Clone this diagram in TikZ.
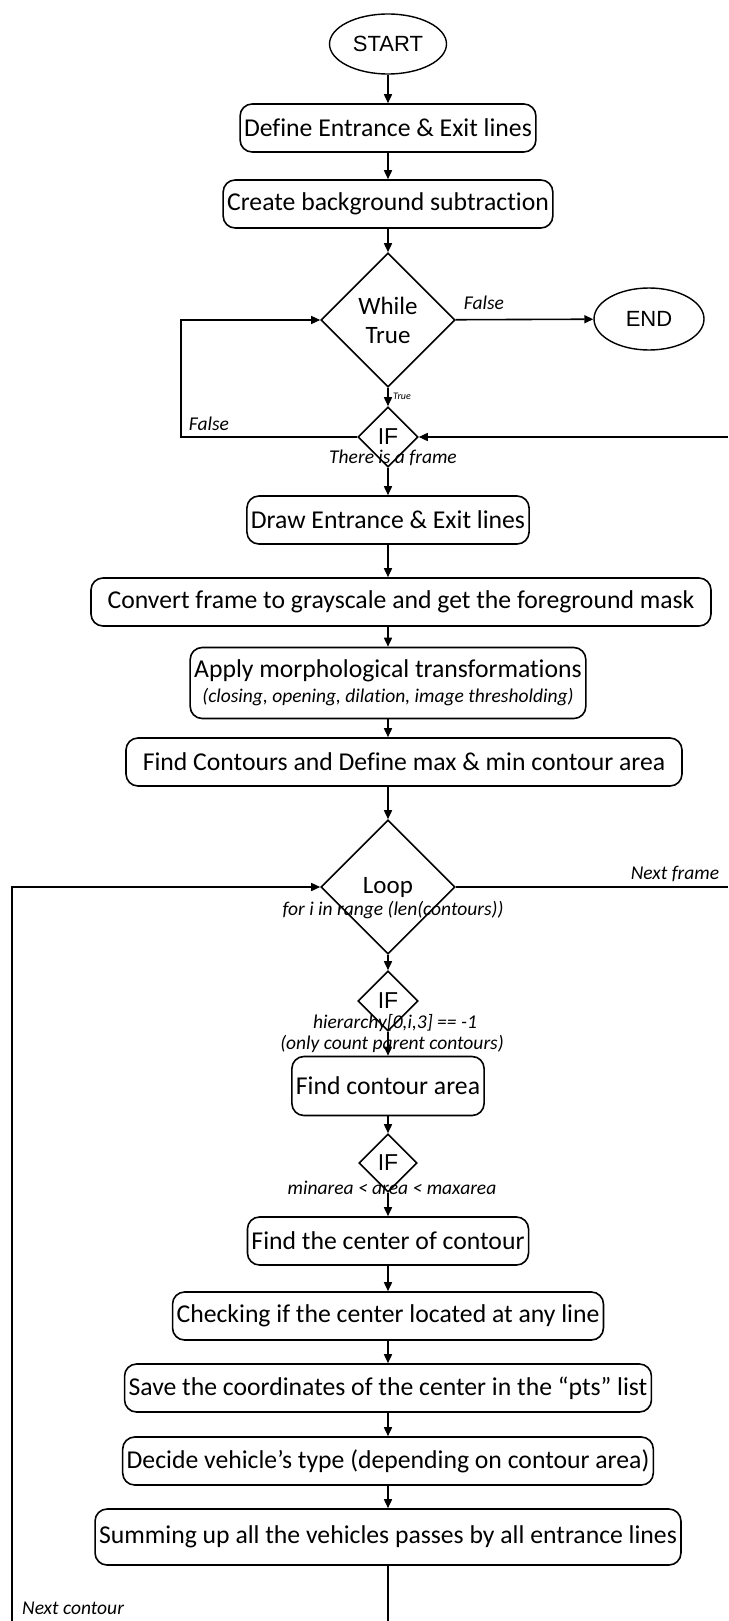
\documentclass[tikz,border=0pt]{standalone}
\usepackage{fontspec}
\setmainfont{Carlito}[Ligatures=NoCommon]
\newfontfamily\arialfont{Liberation Sans}
\usetikzlibrary{shapes.geometric,arrows.meta,positioning,calc}

\tikzset{
  stepbox/.style={draw, rounded corners=12pt, line width=1.6pt, minimum height=48pt,
    inner xsep=4pt, inner ysep=2pt, align=center, font=\fontsize{25.7}{30}\selectfont},
  termnode/.style={draw, ellipse, line width=1.4pt, inner sep=0pt,
    font=\arialfont\fontsize{22}{26}\selectfont},
  decision/.style={draw, diamond, line width=1.6pt, inner sep=0pt, aspect=1},
  flow/.style={line width=1.6pt, -{Triangle[length=9pt,width=8pt]}},
  plainline/.style={line width=1.6pt},
  lbl/.style={inner sep=0pt, font=\itshape\fontsize{19.5}{23}\selectfont},
}

\begin{document}
\begin{tikzpicture}[x=1pt,y=-1pt]
\useasboundingbox (0,0) rectangle (728,1621);
% main column
\def\xc{388}
% start and setup
\node[termnode,minimum width=117pt,minimum height=60pt] (start) at (\xc,44) {START};
\node[stepbox] (define) at (\xc,128) {Define Entrance \& Exit lines};
\node[stepbox] (backsub) at (\xc,204) {Create background subtraction};
% outer loop
\node[decision,minimum width=134pt,minimum height=134pt,align=center,
  font=\fontsize{25}{29}\selectfont] (while) at (\xc,320) {While\\True};
\node[termnode,minimum width=110pt,minimum height=62pt] (end) at (649,319) {END};
\node[decision,minimum width=60pt,minimum height=60pt,
  font=\arialfont\fontsize{23}{26}\selectfont] (ifframe) at (\xc,437) {IF};
% per frame steps
\node[stepbox] (drawlines) at (\xc,520) {Draw Entrance \& Exit lines};
\node[stepbox,minimum width=620pt] (gray) at (401,602) {Convert frame to grayscale and get the foreground mask};
\node[stepbox,minimum height=71pt] (morph) at (\xc,683)
  {Apply morphological transformations\\[-5pt]
   {\itshape\fontsize{19.5}{22}\selectfont (closing, opening, dilation, image thresholding)}};
\node[stepbox,minimum width=556pt] (contours) at (404,762) {Find Contours and Define max \& min contour area};
% inner loop
\node[decision,minimum width=134pt,minimum height=134pt,
  font=\fontsize{25}{29}\selectfont] (loop) at (\xc,887) {Loop};
\node[decision,minimum width=60pt,minimum height=60pt,
  font=\arialfont\fontsize{23}{26}\selectfont] (ifparent) at (\xc,1001) {IF};
\node[stepbox,minimum height=59pt] (area) at (\xc,1086) {Find contour area};
\node[decision,minimum width=58pt,minimum height=58pt,
  font=\arialfont\fontsize{23}{26}\selectfont] (ifarea) at (\xc,1163) {IF};
\node[stepbox] (center) at (\xc,1241) {Find the center of contour};
\node[stepbox] (check) at (\xc,1316) {Checking if the center located at any line};
\node[stepbox] (save) at (\xc,1388) {Save the coordinates of the center in the ``pts'' list};
\node[stepbox] (decide) at (\xc,1461) {Decide vehicle's type (depending on contour area)};
\node[stepbox,minimum height=56pt] (summing) at (\xc,1537) {Summing up all the vehicles passes by all entrance lines};

% free ends at the cut edges
\coordinate (rtop) at (728,437);
\coordinate (rbot) at (728,887);
\coordinate (lbot) at (12,1621);
\coordinate (bot) at (\xc,1621);

% labels
\node[lbl] (lfalseend) at (484,303) {False};
\node[lbl,font=\itshape\fontsize{10}{12}\selectfont] (ltrue) at (402,396) {True};
\node[lbl] (lfalseleft) at (209,424) {False};
\node[lbl] (lframe) at (393,458) {There is a frame};
\node[lbl] (lnext) at (675,874) {Next frame};
\node[lbl] (lrange) at (393,910) {for i in range (len(contours))};
\node[lbl] (lhier) at (395,1023) {hierarchy[0,i,3] == -1};
\node[lbl] (lparent) at (392,1044) {(only count parent contours)};
\node[lbl] (lminmax) at (392,1188) {minarea < area < maxarea};
\node[lbl,anchor=west] (lcontour) at (22,1608) {Next contour};

% connectors
\draw[flow] (start) -- (define);
\draw[flow] (define) -- (backsub);
\draw[flow] (backsub) -- (while);
\draw[flow] (while) -- (end);
\draw[flow] (while) -- (ifframe);
\draw[flow] (ifframe.west) -- (181,437) |- (while.west);
\draw[flow] (rtop) -- (ifframe.east);
\draw[flow] (ifframe) -- (drawlines);
\draw[flow] (drawlines) -- (gray.north -| drawlines);
\draw[flow] (gray.south -| morph) -- (morph);
\draw[flow] (morph) -- (contours.north -| morph);
\draw[flow] (contours.south -| loop) -- (loop);
\draw[plainline] (loop.east) -- (rbot);
\draw[flow] (lbot) |- (loop.west);
\draw[flow] (loop) -- (ifparent);
\draw[flow] (ifparent) -- (area);
\draw[flow] (area) -- (ifarea);
\draw[flow] (ifarea) -- (center);
\draw[flow] (center) -- (check);
\draw[flow] (check) -- (save);
\draw[flow] (save) -- (decide);
\draw[flow] (decide) -- (summing);
\draw[plainline] (summing) -- (bot);
\end{tikzpicture}
\end{document}
